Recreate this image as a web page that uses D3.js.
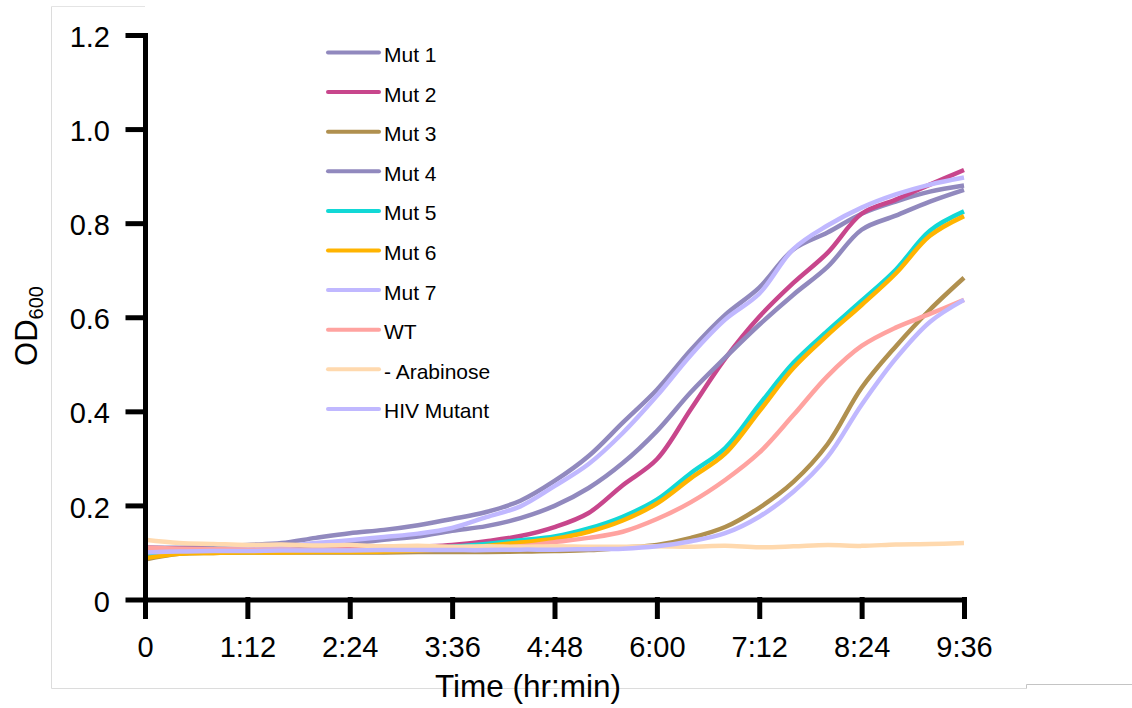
<!DOCTYPE html>
<html>
<head>
<meta charset="utf-8">
<script src="https://cdn.jsdelivr.net/npm/d3@7"></script>
<style>
  body { margin: 0; background: #fff; }
  svg { font-family: "Liberation Sans", Arial, sans-serif; }
</style>
</head>
<body>
<svg id="plot" width="1132" height="708"></svg>
<script>
// time in minutes
var times = [0, 24, 48, 72, 96, 120, 144, 168, 192, 216, 240, 264, 288, 312, 336, 360, 384, 408, 432, 456, 480, 504, 528, 552, 576];

var mut1 = [0.110, 0.110, 0.112, 0.116, 0.120, 0.131, 0.141, 0.148, 0.158, 0.171, 0.186, 0.210, 0.252, 0.305, 0.376, 0.446, 0.531, 0.605, 0.663, 0.744, 0.780, 0.820, 0.846, 0.867, 0.880];
var mut2 = [0.110, 0.108, 0.107, 0.106, 0.106, 0.106, 0.107, 0.108, 0.112, 0.116, 0.124, 0.135, 0.154, 0.184, 0.243, 0.298, 0.405, 0.512, 0.601, 0.673, 0.737, 0.820, 0.850, 0.882, 0.913];
var mut3 = [0.085, 0.097, 0.099, 0.100, 0.100, 0.100, 0.100, 0.100, 0.101, 0.101, 0.101, 0.102, 0.103, 0.105, 0.110, 0.116, 0.131, 0.154, 0.195, 0.250, 0.330, 0.450, 0.538, 0.616, 0.684];
var mut4 = [0.105, 0.105, 0.106, 0.108, 0.110, 0.112, 0.119, 0.127, 0.134, 0.146, 0.156, 0.173, 0.199, 0.237, 0.290, 0.358, 0.441, 0.514, 0.584, 0.648, 0.707, 0.786, 0.816, 0.846, 0.871];
var mut5 = [0.095, 0.100, 0.101, 0.101, 0.102, 0.102, 0.103, 0.104, 0.108, 0.112, 0.118, 0.126, 0.134, 0.151, 0.176, 0.212, 0.269, 0.322, 0.414, 0.503, 0.571, 0.635, 0.701, 0.784, 0.825];
var mut6 = [0.088, 0.097, 0.099, 0.100, 0.100, 0.101, 0.101, 0.102, 0.104, 0.108, 0.114, 0.121, 0.129, 0.144, 0.168, 0.204, 0.258, 0.310, 0.400, 0.492, 0.562, 0.626, 0.693, 0.773, 0.815];
var mut7 = [0.105, 0.105, 0.107, 0.110, 0.113, 0.120, 0.126, 0.133, 0.140, 0.152, 0.175, 0.198, 0.241, 0.288, 0.354, 0.433, 0.520, 0.595, 0.650, 0.745, 0.795, 0.833, 0.861, 0.882, 0.897];
var wt   = [0.110, 0.108, 0.107, 0.106, 0.106, 0.106, 0.106, 0.107, 0.107, 0.108, 0.109, 0.113, 0.122, 0.131, 0.144, 0.171, 0.207, 0.254, 0.312, 0.392, 0.475, 0.539, 0.578, 0.607, 0.637];
var arab = [0.127, 0.120, 0.118, 0.116, 0.117, 0.115, 0.116, 0.113, 0.114, 0.112, 0.113, 0.112, 0.113, 0.112, 0.112, 0.113, 0.112, 0.114, 0.111, 0.113, 0.116, 0.114, 0.117, 0.118, 0.120];
var hiv  = [0.100, 0.102, 0.103, 0.103, 0.104, 0.104, 0.104, 0.105, 0.105, 0.105, 0.105, 0.106, 0.106, 0.107, 0.108, 0.113, 0.124, 0.141, 0.176, 0.229, 0.303, 0.414, 0.512, 0.590, 0.637];

var names  = ["Mut 1", "Mut 2", "Mut 3", "Mut 4", "Mut 5", "Mut 6", "Mut 7", "WT", "- Arabinose", "HIV Mutant"];
var values = [mut1, mut2, mut3, mut4, mut5, mut6, mut7, wt, arab, hiv];
var colors = ["#9189be", "#c8468c", "#b0904f", "#9189be", "#12d8d6", "#ffb400", "#c0b8ff", "#ffa3a0", "#ffd9ae", "#c0b8ff"];

var xTicks = [0, 72, 144, 216, 288, 360, 432, 504, 576];
var yTicks = [0, 0.2, 0.4, 0.6, 0.8, 1.0, 1.2];

var svg = d3.select("#plot");

// faint frame left over from the original screenshot
var frame = svg.append("g").attr("fill", "none").attr("stroke-width", 1);
frame.append("path").attr("d", "M51.5,6.5V688.5H1026.5").attr("stroke", "#dcdcdc");
frame.append("path").attr("d", "M51.5,6.5H145").attr("stroke", "#e4e4e4");
frame.append("path").attr("d", "M1026.5,688.5V684.5H1132").attr("stroke", "#c4c4c4");

var x = d3.scaleLinear().domain([0, 576]).range([145, 964]);
var y = d3.scaleLinear().domain([0, 1.2]).range([599.5, 35]);

var line = d3.line()
    .x(function(d) { return x(d[0]); })
    .y(function(d) { return y(d[1]); })
    .curve(d3.curveCatmullRom);

var series = names.map(function(n, i) {
    return { name: n, color: colors[i], pts: d3.zip(times, values[i]) };
});

svg.append("g").selectAll("path")
    .data(series)
    .enter().append("path")
    .attr("fill", "none")
    .attr("stroke", function(d) { return d.color; })
    .attr("stroke-width", 4.5)
    .attr("stroke-linejoin", "round")
    .attr("d", function(d) { return line(d.pts); });

function fmtTime(m) {
    if (m === 0) return "0";
    var h = Math.floor(m / 60), mm = m % 60;
    return h + ":" + (mm < 10 ? "0" : "") + mm;
}

// axes
var gx = svg.append("g")
    .attr("transform", "translate(0,599.5)")
    .call(d3.axisBottom(x).tickValues(xTicks).tickFormat(fmtTime).tickSize(17).tickSizeOuter(0).tickPadding(20));

var gy = svg.append("g")
    .attr("transform", "translate(145,0)")
    .call(d3.axisLeft(y).tickValues(yTicks).tickFormat(function(d) { return d === 0 ? "0" : d.toFixed(1); })
        .tickSize(17).tickSizeOuter(0).tickPadding(18));

[gx, gy].forEach(function(g) {
    g.selectAll(".domain, .tick line")
        .attr("stroke", "#000")
        .attr("stroke-width", 5)
        .attr("stroke-linecap", "square");
    g.selectAll("text")
        .attr("fill", "#000")
        .style("font-family", "Liberation Sans, Arial, sans-serif")
        .style("font-size", "29px");
});
gy.selectAll("text").attr("dy", "0.4em");

svg.append("text")
    .attr("x", 528)
    .attr("y", 697)
    .attr("text-anchor", "middle")
    .style("font-size", "31.5px")
    .text("Time (hr:min)");

var ylab = svg.append("text")
    .attr("transform", "translate(37,326) rotate(-90)")
    .attr("text-anchor", "middle");
ylab.append("tspan").style("font-size", "31px").text("OD");
ylab.append("tspan").attr("dy", 6).style("font-size", "20px").text("600");

// legend
var leg = svg.append("g").selectAll("g")
    .data(series)
    .enter().append("g")
    .attr("transform", function(d, i) { return "translate(0," + (52.5 + i * 39.6) + ")"; });

leg.append("line")
    .attr("x1", 328).attr("x2", 379)
    .attr("stroke", function(d) { return d.color; })
    .attr("stroke-width", 4)
    .attr("stroke-linecap", "round");

leg.append("text")
    .attr("x", 384)
    .attr("y", 9.5)
    .style("font-size", "21px")
    .text(function(d) { return d.name; });
</script>
</body>
</html>
